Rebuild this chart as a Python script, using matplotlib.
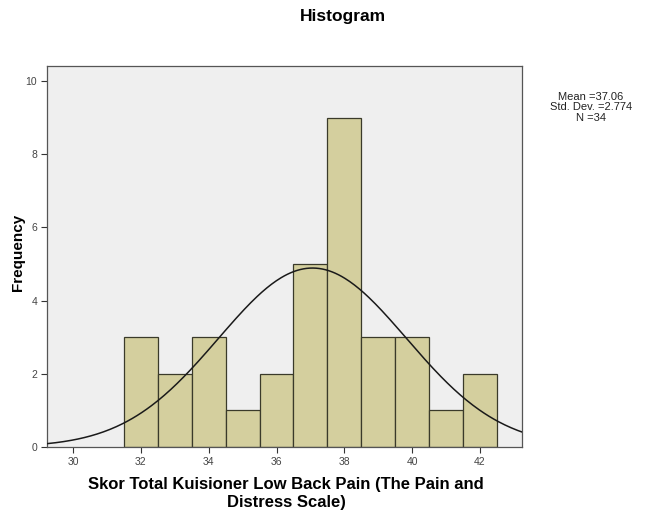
import numpy as np
import matplotlib
matplotlib.use("Agg")
import matplotlib.pyplot as plt

plt.rcParams['font.family'] = ['Liberation Sans', 'DejaVu Sans']

# histogram bins (score -> count)
scores = [32, 33, 34, 35, 36, 37, 38, 39, 40, 41, 42]
counts = [3, 2, 3, 1, 2, 5, 9, 3, 3, 1, 2]
mean = 37.06
std = 2.774
n = 34
xlabel_lines = ['Skor Total Kuisioner Low Back Pain (The Pain and', 'Distress Scale)']
stats_lines = ['Mean =37.06', 'Std. Dev. =2.774', 'N =34']

fig = plt.figure(figsize=(6.51, 5.13), dpi=100)
ax = fig.add_axes([47/651, 1-447/513, (522-47)/651, (447-66)/513])
ax.set_facecolor('#efefef')

ax.bar(scores, counts, width=1.0, color='#d4cf9e', edgecolor='#3a3a2a', linewidth=0.9, zorder=2)

# normal curve scaled to counts
xs = np.linspace(29.2, 43.3, 300)
ys = n * 1.0 * np.exp(-0.5 * ((xs - mean) / std) ** 2) / (std * np.sqrt(2 * np.pi))
ax.plot(xs, ys, color='#1a1a1a', linewidth=1.1, zorder=3)

ax.set_xlim(29.23, 43.24)
ax.set_ylim(0, 10.41)
ax.set_xticks([30, 32, 34, 36, 38, 40, 42])
ax.set_yticks([0, 2, 4, 6, 8, 10])
ax.tick_params(axis='both', direction='out', length=4, width=0.8, labelsize=7.5,
               colors='#333333', labelcolor='#444444', pad=3)
for s in ax.spines.values():
    s.set_color('#555555')
    s.set_linewidth(0.9)

# x label, one text per line so the spacing matches
for i, line in enumerate(xlabel_lines):
    fig.text(286/651, 1-(485 + 17*i)/513, line, ha='center', va='center',
             fontsize=12, fontweight='bold')
fig.text(18/651, 1-252/513, 'Frequency', ha='center', va='center', rotation=90,
         fontsize=11, fontweight='bold')

fig.text(343/651, 1-17/513, 'Histogram', ha='center', va='center', fontsize=12.5, fontweight='bold')
for i, line in enumerate(stats_lines):
    fig.text(591/651, 1-(97 + 10.5*i)/513, line, ha='center', va='center',
             fontsize=8, color='#222222')

fig.savefig('out.png', dpi=100)
